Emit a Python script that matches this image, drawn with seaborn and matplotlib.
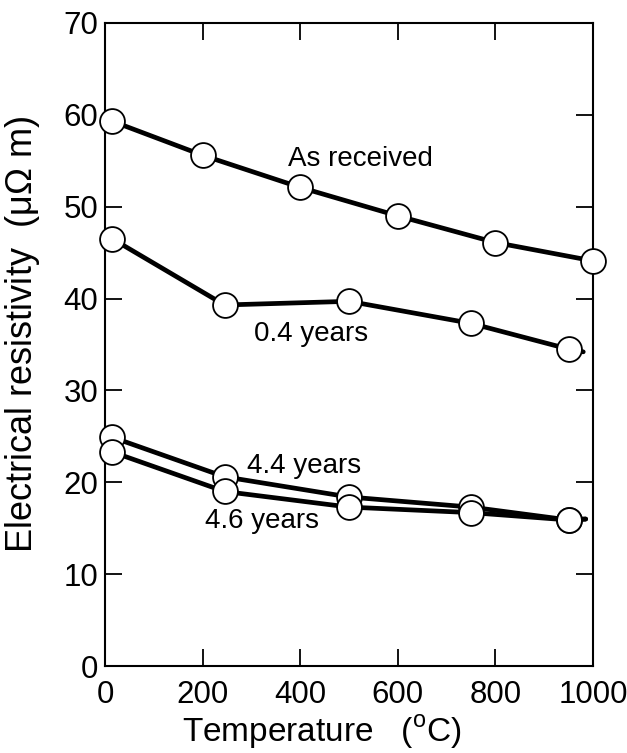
import matplotlib
matplotlib.use("Agg")
import matplotlib.pyplot as plt
import seaborn as sns
import pandas as pd

# Measured points (temperature in deg C, resistivity in micro-ohm m)
temp_as_received = [15, 200, 400, 600, 800, 1000]
res_as_received = [59.3, 55.6, 52.1, 49.0, 46.1, 44.1]

temp_04 = [15, 245, 500, 750, 950]
res_04 = [46.5, 39.3, 39.7, 37.3, 34.5]

temp_44 = [15, 245, 500, 750, 950]
res_44 = [24.9, 20.6, 18.4, 17.3, 15.9]

temp_46 = [15, 245, 500, 750, 950]
res_46 = [23.3, 19.0, 17.3, 16.7, 15.9]

# where the drawn curves end beyond the last marker
tail_temp = [None, 980, 985, 985]
tail_res = [None, 34.2, 16.0, 16.0]

series_names = ["As received", "0.4 years", "4.4 years", "4.6 years"]
label_x = [375, 305, 290, 205]
label_y = [54.4, 35.4, 21.0, 15.0]

x_ticks = [0, 200, 400, 600, 800, 1000]
y_ticks = [0, 10, 20, 30, 40, 50, 60, 70]

sns.set_theme(style="ticks")
plt.rcParams["font.family"] = ["Liberation Sans", "DejaVu Sans"]
plt.rcParams["mathtext.fontset"] = "custom"
plt.rcParams["mathtext.rm"] = "Liberation Sans"
plt.rcParams["text.color"] = "black"
plt.rcParams["axes.labelcolor"] = "black"

fig = plt.figure(figsize=(6.27, 7.53), dpi=100)
ax = fig.add_axes([0.1675, 0.1155, 0.7783, 0.854])

all_t = [temp_as_received, temp_04, temp_44, temp_46]
all_r = [res_as_received, res_04, res_44, res_46]

for i, (name, t, r) in enumerate(zip(series_names, all_t, all_r)):
    lt = list(t) + ([tail_temp[i]] if tail_temp[i] is not None else [])
    lr = list(r) + ([tail_res[i]] if tail_res[i] is not None else [])
    df_line = pd.DataFrame({"T": lt, "R": lr})
    sns.lineplot(data=df_line, x="T", y="R", ax=ax, color="black", lw=3.4,
                 zorder=2 + 2 * i, sort=False)
    df_pts = pd.DataFrame({"T": t, "R": r})
    sns.scatterplot(data=df_pts, x="T", y="R", ax=ax, marker="o", s=320,
                    facecolor="white", edgecolor="black", linewidth=1.3,
                    zorder=3 + 2 * i, clip_on=False)

for name, lx, ly in zip(series_names, label_x, label_y):
    ax.text(lx, ly, name, fontsize=20, color="black", ha="left", va="baseline")

ax.set_xlim(0, 1000)
ax.set_ylim(0, 70)
ax.set_xticks(x_ticks)
ax.set_yticks(y_ticks)
ax.tick_params(axis="both", direction="in", length=12, width=1.3,
               top=True, right=True, labelsize=22.5, colors="black")
ax.tick_params(axis="x", pad=10)
ax.tick_params(axis="y", pad=5)
for sp in ax.spines.values():
    sp.set_linewidth(1.5)
    sp.set_color("black")

ax.set_xlabel("Temperature   ($^{\\mathrm{o}}$C)", fontsize=24, color="black")
ax.set_ylabel("Electrical resistivity  ($\\mathrm{\\mu\\Omega}$ m)", fontsize=26, color="black")
# label positions in axes coordinates
ax.xaxis.set_label_coords(0.445, -0.073)
ax.yaxis.set_label_coords(-0.129, 0.516)
ax.grid(False)

fig.savefig("out.png", dpi=100)
